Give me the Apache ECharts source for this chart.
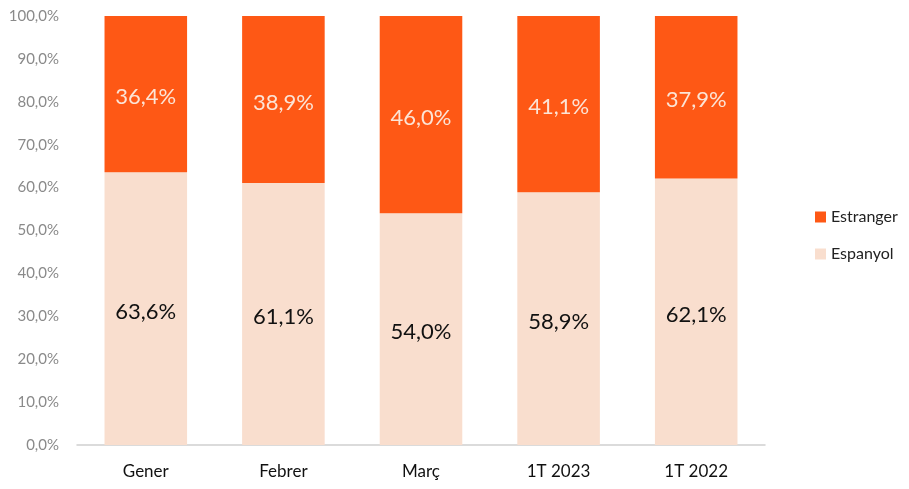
<!DOCTYPE html>
<html>
<head>
<meta charset="utf-8">
<script src="https://cdn.jsdelivr.net/npm/echarts@6/dist/echarts.min.js"></script>
<style>
  html, body { margin: 0; padding: 0; background: #fff; }
  #chart { width: 909px; height: 489px; }
</style>
</head>
<body>
<div id="chart"></div>
<script>
// dades del gràfic
var categories = ['Gener', 'Febrer', 'Març', '1T 2023', '1T 2022'];
var espanyol = [63.6, 61.1, 54.0, 58.9, 62.1];
var estranger = [36.4, 38.9, 46.0, 41.1, 37.9];

var fontFamily = 'Lato, Open Sans, sans-serif';

function pct(v) {
  return v.toFixed(1).replace('.', ',') + '%';
}

var chart = echarts.init(document.getElementById('chart'));
chart.setOption({
  animation: false,
  grid: { left: 77, right: 144, top: 16, bottom: 44 },
  legend: {
    orient: 'vertical',
    left: 810,
    top: 204,
    itemWidth: 11,
    itemHeight: 11,
    itemGap: 21,
    icon: 'rect',
    data: ['Estranger', 'Espanyol'],
    textStyle: { fontFamily: fontFamily, fontSize: 16, color: '#222' }
  },
  xAxis: {
    type: 'category',
    data: categories,
    axisTick: { show: false },
    axisLine: { lineStyle: { color: '#d0d0d0', width: 1.5 } },
    axisLabel: { fontFamily: fontFamily, fontSize: 17, color: '#111', margin: 18 }
  },
  yAxis: {
    type: 'value',
    min: 0,
    max: 100,
    interval: 10,
    splitLine: { show: false },
    axisLine: { show: false },
    axisTick: { show: false },
    axisLabel: {
      fontFamily: fontFamily, fontSize: 15, color: '#8a8a8a', margin: 18,
      formatter: function (v) { return pct(v); }
    }
  },
  series: [
    {
      name: 'Espanyol',
      type: 'bar',
      stack: 'total',
      barWidth: '60%',
      data: espanyol,
      itemStyle: { color: '#F9DECE' },
      label: {
        show: true, position: 'inside', offset: [0, 3], fontFamily: fontFamily, fontSize: 22, color: '#111',
        formatter: function (p) { return pct(p.value); }
      }
    },
    {
      name: 'Estranger',
      type: 'bar',
      stack: 'total',
      barWidth: '60%',
      data: estranger,
      itemStyle: { color: '#FE5815' },
      label: {
        show: true, position: 'inside', offset: [0, 3], fontFamily: fontFamily, fontSize: 22, color: '#FCE4D6',
        formatter: function (p) { return pct(p.value); }
      }
    }
  ]
});
</script>
</body>
</html>
